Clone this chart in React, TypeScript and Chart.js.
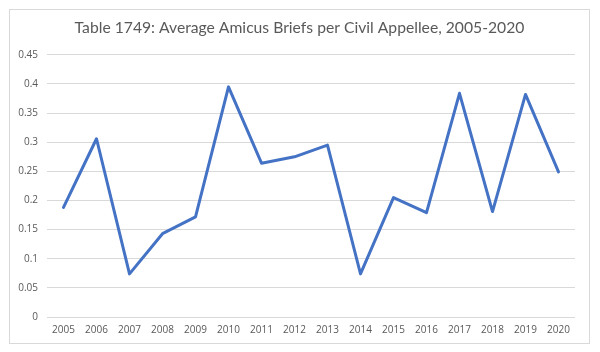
import React, { useEffect, useRef } from "react";
import { Chart, registerables } from "chart.js";

Chart.register(...registerables);

const chartTitle = "Table 1749: Average Amicus Briefs per Civil Appellee, 2005-2020";
const years = ["2005", "2006", "2007", "2008", "2009", "2010", "2011", "2012", "2013", "2014", "2015", "2016", "2017", "2018", "2019", "2020"];
const avgBriefs = [0.188, 0.306, 0.074, 0.143, 0.172, 0.395, 0.264, 0.275, 0.295, 0.074, 0.205, 0.179, 0.384, 0.181, 0.382, 0.249];
const yMin = 0;
const yMax = 0.45;
const yStep = 0.05;

export default function App() {
  const ref = useRef<HTMLCanvasElement | null>(null);

  useEffect(() => {
    if (!ref.current) return;
    const gray = "#595959";
    const chart = new Chart(ref.current, {
      type: "line",
      data: {
        labels: years,
        datasets: [
          {
            label: "Average",
            data: avgBriefs,
            borderColor: "#4472c4",
            backgroundColor: "#4472c4",
            borderWidth: 3,
            pointRadius: 0,
            tension: 0,
            borderJoinStyle: "round",
            borderCapStyle: "round",
          },
        ],
      },
      options: {
        animation: false,
        responsive: false,
        maintainAspectRatio: false,
        layout: { padding: { left: 0, right: 0, top: 0, bottom: 0 } },
        plugins: {
          legend: { display: false },
          tooltip: { enabled: false },
          title: {
            display: true,
            text: chartTitle,
            color: gray,
            font: { family: "Lato", size: 15.7, weight: "normal" },
            padding: { top: 9, bottom: 17 },
          },
        },
        scales: {
          x: {
            offset: true,
            grid: { display: false, drawTicks: false },
            border: { display: false },
            ticks: {
              color: gray,
              font: { family: "Open Sans", size: 10 },
              padding: 7,
              maxRotation: 0,
              autoSkip: false,
            },
          },
          y: {
            min: yMin,
            max: yMax,
            grid: { color: "#d9d9d9", drawTicks: false, lineWidth: 1 },
            border: { display: false },
            ticks: {
              stepSize: yStep,
              color: gray,
              font: { family: "Open Sans", size: 10 },
              padding: 9,
              callback: (v: any) => String(Number(Number(v).toFixed(2))),
            },
            afterFit: (s: any) => {
              s.width = 37;
            },
          },
          yRightGap: {
            type: "linear",
            position: "right",
            display: true,
            min: yMin,
            max: yMax,
            grid: { display: false, drawTicks: false },
            border: { display: false },
            ticks: { display: false },
            afterFit: (s: any) => {
              s.width = 14;
            },
          },
        },
      },
    });
    return () => chart.destroy();
  }, []);

  return (
    <div
      style={{
        position: "absolute",
        left: 9,
        top: 9,
        width: 581,
        height: 335,
        boxSizing: "border-box",
        border: "1px solid #d9d9d9",
        background: "#fff",
      }}
    >
      <canvas ref={ref} width={579} height={333} style={{ display: "block", width: 579, height: 333 }} />
    </div>
  );
}
